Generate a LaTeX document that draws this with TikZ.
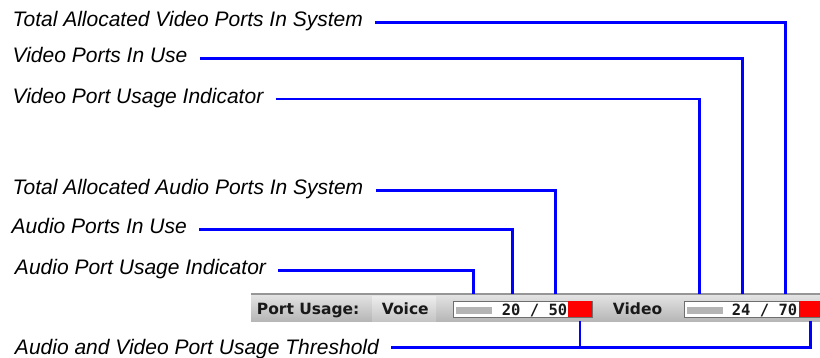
\documentclass[tikz,border=0pt]{standalone}
\usepackage{fontspec}
\setmainfont{Liberation Sans}
\newfontfamily\barfont{DejaVu Sans}
\newfontfamily\numfont{DejaVu Sans Mono}
\definecolor{connblue}{RGB}{0,0,255}
\definecolor{barTop}{RGB}{228,228,228}
\definecolor{barBot}{RGB}{182,182,182}
\definecolor{barEdge}{RGB}{150,150,150}
\definecolor{panelTop}{RGB}{236,236,236}
\definecolor{panelBot}{RGB}{196,196,196}
\definecolor{meterEdge}{RGB}{110,110,110}
\definecolor{meterFill}{RGB}{180,180,180}
\definecolor{thrRed}{RGB}{255,0,0}
\begin{document}
\begin{tikzpicture}[x=1pt,y=-1pt,
  lbl/.style={font=\fontsize{21}{25}\selectfont\itshape, inner sep=0pt, outer xsep=12.5pt, anchor=base west},
  conn/.style={draw=connblue, line width=2.6pt},
  bartext/.style={font=\barfont\bfseries\fontsize{15.5}{18}\selectfont, inner sep=0pt, anchor=base west, text=black!90},
  numtext/.style={font=\numfont\bfseries\fontsize{15.5}{18}\selectfont, inner sep=0pt, anchor=base west, text=black!90},
  meter/.style={draw=meterEdge, fill=white, line width=1pt, minimum height=16.6pt, inner sep=0pt, anchor=north west},
  fillbar/.style={fill=meterFill, minimum height=7pt, inner sep=0pt, anchor=north west},
  thrbox/.style={fill=thrRed, minimum height=16.6pt, inner sep=0pt, anchor=north west}
]
\useasboundingbox (0,0) rectangle (820,358);
\clip (0,0) rectangle (820,358);

% status bar
\node[anchor=north west, minimum width=569pt, minimum height=27pt, inner sep=0pt,
      top color=barTop, bottom color=barBot] (bar) at (251,294) {};
\draw[barEdge, line width=1.5pt] (bar.north west) -- (bar.north east);
\node[anchor=north west, minimum width=64pt, minimum height=24.5pt, inner sep=0pt,
      top color=panelTop, bottom color=panelBot] (vpanel) at (372,296.5) {};

\node[bartext] (pu) at (256.7,314.7) {Port Usage:};
\node[bartext] (voice) at (381.7,314.7) {Voice};
\node[bartext] (video) at (612.7,314.7) {Video};

% voice meter
\node[meter, minimum width=139pt] (m1) at (452.7,300.7) {};
\node[fillbar, minimum width=35.7pt] (g1) at (456,307.3) {};
\node[thrbox, minimum width=24pt] (red1) at (567.7,300.7) {};
\node[numtext] (n1) at (501.7,315.3) {20 / 50};

% video meter
\node[meter, minimum width=140pt] (m2) at (684,300.7) {};
\node[fillbar, minimum width=35.6pt] (g2) at (686.7,307.3) {};
\node[thrbox, minimum width=23.7pt] (red2) at (798.3,300.7) {};
\node[numtext] (n2) at (731.7,315.3) {24 / 70};

% labels
\node[lbl] (tv) at (0.2,26.7) {Total Allocated Video Ports In System};
\node[lbl] (uv) at (0.2,62.7) {Video Ports In Use};
\node[lbl] (iv) at (0.2,103.4) {Video Port Usage Indicator};
\node[lbl] (ta) at (0.2,194.7) {Total Allocated Audio Ports In System};
\node[lbl] (ua) at (-0.8,233.7) {Audio Ports In Use};
\node[lbl] (ia) at (2.5,274.5) {Audio Port Usage Indicator};
\node[lbl] (thr) at (2.5,354) {Audio and Video Port Usage Threshold};

% corner coordinates
\coordinate (ctv) at (785.7,22.3);
\coordinate (cuv) at (742.3,58.3);
\coordinate (civ) at (699.3,99);
\coordinate (cta) at (555.3,190.3);
\coordinate (cua) at (512.3,229.3);
\coordinate (cia) at (473.3,270.3);
\coordinate (thrY) at (0,347.3);

% connectors
\draw[conn] (tv.east |- ctv) -- (ctv) -- (ctv |- bar.north);
\draw[conn] (uv.east |- cuv) -- (cuv) -- (cuv |- bar.north);
\draw[conn] (iv.east |- civ) -- (civ) -- (civ |- bar.north);
\draw[conn] (ta.east |- cta) -- (cta) -- (cta |- bar.north);
\draw[conn] (ua.east |- cua) -- (cua) -- (cua |- bar.north);
\draw[conn] (ia.east |- cia) -- (cia) -- (cia |- bar.north);
\draw[conn] (thr.east |- thrY) -| (red2 |- bar.south);
\draw[conn] (red1 |- bar.south) -- (red1 |- thrY);
\end{tikzpicture}
\end{document}
